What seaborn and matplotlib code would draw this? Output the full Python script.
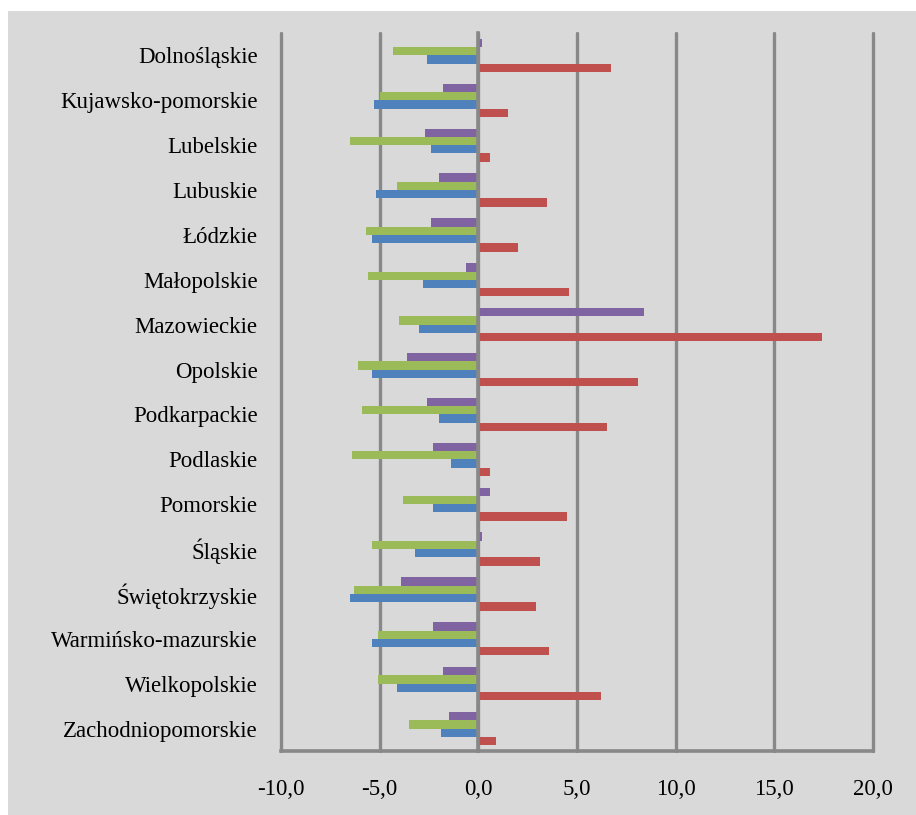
import matplotlib
matplotlib.use("Agg")
import matplotlib.pyplot as plt
from matplotlib.patches import Rectangle
import pandas as pd
import seaborn as sns

# Regions (voivodeships), top to bottom
regions = ['Dolnośląskie', 'Kujawsko-pomorskie', 'Lubelskie', 'Lubuskie', 'Łódzkie',
           'Małopolskie', 'Mazowieckie', 'Opolskie', 'Podkarpackie', 'Podlaskie',
           'Pomorskie', 'Śląskie', 'Świętokrzyskie', 'Warmińsko-mazurskie',
           'Wielkopolskie', 'Zachodniopomorskie']

# Four series, drawn top to bottom inside each group
series_purple = [0.2, -1.8, -2.7, -2.0, -2.4, -0.6, 8.4, -3.6, -2.6, -2.3,
                 0.6, 0.2, -3.9, -2.3, -1.8, -1.5]
series_green = [-4.3, -5.0, -6.5, -4.1, -5.7, -5.6, -4.0, -6.1, -5.9, -6.4,
                -3.8, -5.4, -6.3, -5.1, -5.1, -3.5]
series_blue = [-2.6, -5.3, -2.4, -5.2, -5.4, -2.8, -3.0, -5.4, -2.0, -1.4,
               -2.3, -3.2, -6.5, -5.4, -4.1, -1.9]
series_red = [6.7, 1.5, 0.6, 3.5, 2.0, 4.6, 17.4, 8.1, 6.5, 0.6,
              4.5, 3.1, 2.9, 3.6, 6.2, 0.9]

series_names = ['Seria 1', 'Seria 2', 'Seria 3', 'Seria 4']
series_colors = ['#8064A2', '#9BBB59', '#4F81BD', '#C0504D']

x_ticks = [-10, -5, 0, 5, 10, 15, 20]
x_labels = ['-10,0', '-5,0', '0,0', '5,0', '10,0', '15,0', '20,0']

# long-form table for seaborn
rows = []
for name, vals in zip(series_names, [series_purple, series_green, series_blue, series_red]):
    for reg, v in zip(regions, vals):
        rows.append({'region': reg, 'value': v, 'series': name})
df = pd.DataFrame(rows)

sns.set_style("white")
plt.rcParams['font.family'] = ['Liberation Serif', 'DejaVu Serif']
plt.rcParams['text.color'] = 'black'
plt.rcParams['xtick.labelcolor'] = 'black'
plt.rcParams['ytick.labelcolor'] = 'black'

grid_col = '#888888'
bg = '#D9D9D9'

fig = plt.figure(figsize=(9.16, 8.15), dpi=100, facecolor='white')
fig.patches.append(Rectangle((8 / 916, 0), 1, 1 - 11 / 815, transform=fig.transFigure,
                             facecolor=bg, edgecolor='none', zorder=-10))
ax = fig.add_axes([281 / 916, 1 - 751 / 815, (873 - 281) / 916, (751 - 33) / 815])
ax.set_facecolor(bg)

sns.barplot(data=df, y='region', x='value', hue='series', order=regions,
            hue_order=series_names, palette=dict(zip(series_names, series_colors)),
            orient='h', width=0.74, gap=0.0, saturation=1, legend=False,
            errorbar=None, linewidth=0, ax=ax)

ax.set_xlim(-10, 20)
ax.set_ylim(len(regions) - 0.5, -0.5)
ax.set_xlabel('')
ax.set_ylabel('')

# vertical gridlines
ax.set_axisbelow(True)
ax.xaxis.grid(True, color=grid_col, linewidth=2.4)
ax.yaxis.grid(False)

# x axis
ax.set_xticks(x_ticks)
ax.set_xticklabels(x_labels, fontsize=16.5)
ax.tick_params(axis='x', direction='out', length=6, width=2.2, color=grid_col, pad=14)
for gl in ax.get_xgridlines():
    gl.set_clip_on(False)

# category axis sits at x = 0, ticks between categories, labels far left
for s in ['top', 'right']:
    ax.spines[s].set_visible(False)
ax.spines['left'].set_position(('data', 0))
ax.spines['left'].set_color(grid_col)
ax.spines['left'].set_linewidth(2.6)
ax.spines['bottom'].set_color(grid_col)
ax.spines['bottom'].set_linewidth(2.6)
ax.set_yticks([i + 0.5 for i in range(-1, len(regions))], minor=True)
ax.tick_params(axis='y', which='minor', direction='out', length=6, width=2.2, color=grid_col)
ax.tick_params(axis='y', which='major', length=0, pad=159, labelsize=16.5)

fig.savefig('out.png', dpi=100, facecolor='white')
